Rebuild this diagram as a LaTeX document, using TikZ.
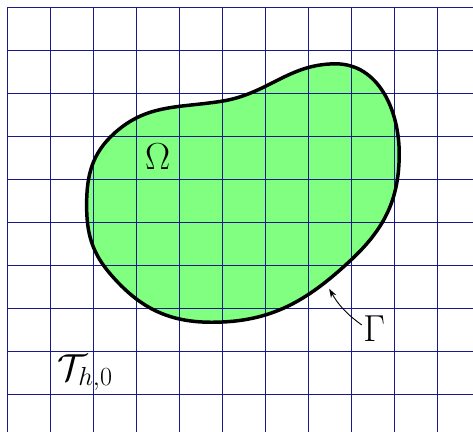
\documentclass[tikz,border=0pt]{standalone}
\usetikzlibrary{arrows.meta}
\definecolor{gridblue}{RGB}{25,25,140}
\definecolor{domgreen}{RGB}{128,255,128}
\tikzset{
  gridline/.style={draw=gridblue, line width=0.8pt},
  boundary/.style={draw=black, line width=2.3pt},
  biglabel/.style={inner sep=1pt, font=\fontsize{25}{30}\selectfont},
  pointer/.style={-{Stealth[length=6pt,width=4pt]}, line width=0.6pt}
}
\begin{document}
\begin{tikzpicture}
\useasboundingbox (-0.1744,0.1279) rectangle (10.8256,10.1744);
\clip (-0.1744,0.1279) rectangle (10.8256,10.1744);
\def\domainpath{(1.84,5.4) to[out=90,in=222] (2.49,7.08)
  to[out=42,in=189] (4.98,7.82)
  to[out=9,in=180] (7.63,8.69)
  to[out=0,in=90] (9.11,6.6)
  to[out=-90,in=43] (7.98,4.12)
  to[out=223,in=0] (4.75,2.68)
  to[out=180,in=-49] (2.41,3.78)
  to[out=131,in=-90] cycle}
\fill[domgreen] \domainpath;
\draw[gridline, step=1] (0,-0.5) grid (11.5,10);
\draw[boundary] \domainpath;
\node[biglabel] (omega) at (3.49,6.53) {$\Omega$};
\node[biglabel] (gamma) at (8.53,2.54) {$\Gamma$};
\node[biglabel] (tau) at (1.81,1.51) {$\mathcal{T}_{h,0}$};
\coordinate (gp) at (7.48,3.46);
\draw[pointer] (gamma.165) to[bend left=12] (gp);
\end{tikzpicture}
\end{document}
